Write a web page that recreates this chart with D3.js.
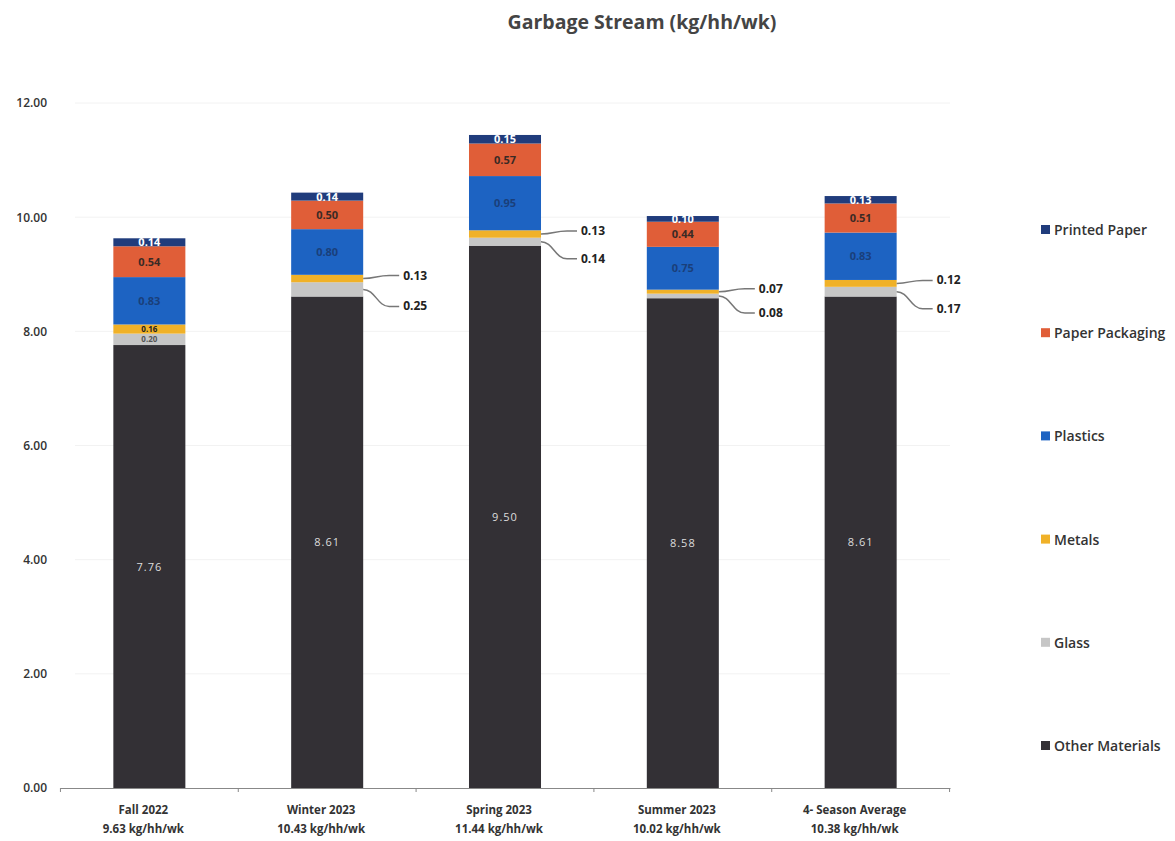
<!DOCTYPE html>
<html><head><meta charset="utf-8">
<script src="https://cdn.jsdelivr.net/npm/d3@7"></script>
<style>body{margin:0;background:#fff;font-family:"Open Sans",Lato,sans-serif;}</style>
</head><body><svg id="c" width="1175" height="841"></svg>
<script>
const categories = ["Fall 2022","Winter 2023","Spring 2023","Summer 2023","4- Season Average"];
const totals = ["9.63 kg/hh/wk","10.43 kg/hh/wk","11.44 kg/hh/wk","10.02 kg/hh/wk","10.38 kg/hh/wk"];
const seriesNames = ["Other Materials","Glass","Metals","Plastics","Paper Packaging","Printed Paper"];
const otherMaterials = [7.76, 8.61, 9.50, 8.58, 8.61];
const glass = [0.20, 0.25, 0.14, 0.08, 0.17];
const metals = [0.16, 0.13, 0.13, 0.07, 0.12];
const plastics = [0.83, 0.80, 0.95, 0.75, 0.83];
const paperPackaging = [0.54, 0.50, 0.57, 0.44, 0.51];
const printedPaper = [0.14, 0.14, 0.15, 0.10, 0.13];
const yTicks = [0, 2, 4, 6, 8, 10, 12];
const colors = ["#333035","#c6c6c6","#f0b128","#1d63c2","#e05e38","#203c7c"];

(function(){
const seriesVals = [otherMaterials, glass, metals, plastics, paperPackaging, printedPaper];
const rows = categories.map((c,i)=>{const o={cat:c}; seriesNames.forEach((s,j)=>o[s]=seriesVals[j][i]); return o;});
const stack = d3.stack().keys(seriesNames)(rows);

const svg = d3.select("#c");
const pL = 60, pR = 950, pT = 103, pB = 788;
const x = d3.scaleBand().domain(categories).range([pL, pR]).paddingInner(0.595).paddingOuter(0.3);
const y = d3.scaleLinear().domain([0,12]).range([pB, pT]);

// title
svg.append("text").attr("x",642).attr("y",29).attr("text-anchor","middle")
  .attr("font-size",19.5).attr("font-weight","bold").attr("fill","#444").text("Garbage Stream (kg/hh/wk)");

// gridlines
svg.append("g").selectAll("line").data(yTicks.filter(t=>t>0)).join("line")
  .attr("x1",pL+15).attr("x2",pR).attr("y1",d=>y(d)).attr("y2",d=>y(d))
  .attr("stroke","#f2f2f2").attr("stroke-width",1);

// y axis labels
const yAxis = d3.axisLeft(y).tickValues(yTicks).tickFormat(d3.format(".2f")).tickSize(0).tickPadding(0);
const ga = svg.append("g").attr("transform",`translate(${pL-13},0)`).call(yAxis);
ga.select(".domain").remove();
ga.selectAll("text").attr("font-size",12).attr("fill","#333").attr("font-family","'Open Sans',sans-serif").attr("font-weight","600");

// bars
const layers = svg.append("g").selectAll("g").data(stack).join("g").attr("fill",(d,i)=>colors[i]);
layers.selectAll("rect").data(d=>d).join("rect")
  .attr("x",d=>x(d.data.cat)).attr("width",x.bandwidth())
  .attr("y",d=>y(d[1])).attr("height",d=>y(d[0])-y(d[1]));

// x axis
const xAxis = d3.axisBottom(x).tickSize(0).tickFormat("");
const gx = svg.append("g").attr("transform",`translate(0,${pB})`).call(xAxis);
gx.select(".domain").attr("stroke","#888").attr("stroke-width",1);
const step = x.step();
svg.append("g").selectAll("line").data(d3.range(categories.length+1)).join("line")
  .attr("x1",i=>x(categories[0]) - (step - x.bandwidth())/2 + i*step)
  .attr("x2",i=>x(categories[0]) - (step - x.bandwidth())/2 + i*step)
  .attr("y1",pB).attr("y2",pB+4).attr("stroke","#888");

// x labels
const xl = svg.append("g").selectAll("text").data(categories).join("text")
  .attr("x",d=>x(d)+x.bandwidth()/2).attr("text-anchor","middle")
  .attr("font-size",11.5).attr("font-weight","bold").attr("fill","#333");
xl.append("tspan").attr("x",d=>x(d)+x.bandwidth()/2 - 6).attr("y",814).text(d=>d);
xl.append("tspan").attr("x",d=>x(d)+x.bandwidth()/2 - 6).attr("y",833).text((d,i)=>totals[i]);

// inside labels
const fmt = d3.format(".2f");
const inside = [
  {s:0, color:"#ddd", weight:"normal", size:11},
  {s:3, color:"#1a3f7a", weight:"bold", size:11},
  {s:4, color:"#3a2a25", weight:"bold", size:11},
  {s:5, color:"#fff", weight:"bold", size:11}
];
inside.forEach(o=>{
  svg.append("g").selectAll("text").data(stack[o.s]).join("text")
    .attr("x",d=>x(d.data.cat)+x.bandwidth()/2)
    .attr("y",d=>(y(d[0])+y(d[1]))/2 + 4)
    .attr("text-anchor","middle").attr("font-size",o.size).attr("font-weight",o.weight)
    .attr("fill",o.color).attr("letter-spacing", o.s===0?1:0)
    .text(d=>fmt(d[1]-d[0]));
});
// Fall small labels inside (glass + metals)
[1,2].forEach(s=>{
  const d = stack[s][0];
  svg.append("text").attr("x",x(d.data.cat)+x.bandwidth()/2).attr("y",(y(d[0])+y(d[1]))/2+3)
    .attr("text-anchor","middle").attr("font-size",8).attr("font-weight","bold")
    .attr("fill", s===2 ? "#222" : "#555").text(fmt(d[1]-d[0]));
});

// callout labels for glass / metals
const callG = svg.append("g");
for (let i=1;i<categories.length;i++){
  const xr = x(categories[i]) + x.bandwidth();
  const m = stack[2][i], g = stack[1][i];
  const ym = (y(m[0])+y(m[1]))/2, yg = (y(g[0])+y(g[1]))/2;
  const lx = xr + 40;
  const tyM = ym - 3, tyG = yg + 17;
  callG.append("path").attr("d",`M${xr},${ym} C${xr+12},${ym} ${xr+14},${tyM} ${xr+26},${tyM} L${lx-4},${tyM}`)
    .attr("fill","none").attr("stroke","#777").attr("stroke-width",1.5);
  callG.append("path").attr("d",`M${xr},${yg} C${xr+12},${yg} ${xr+14},${tyG} ${xr+26},${tyG} L${lx-4},${tyG}`)
    .attr("fill","none").attr("stroke","#777").attr("stroke-width",1.5);
  callG.append("text").attr("x",lx).attr("y",tyM+4).attr("font-size",12).attr("font-weight","bold").attr("fill","#222").text(fmt(m[1]-m[0]));
  callG.append("text").attr("x",lx).attr("y",tyG+4).attr("font-size",12).attr("font-weight","bold").attr("fill","#222").text(fmt(g[1]-g[0]));
}

// legend
const legendOrder = seriesNames.map((s,i)=>({s,i})).reverse();
const lg = svg.append("g").selectAll("g").data(legendOrder).join("g")
  .attr("transform",(d,k)=>`translate(1041,${230 + k*103.2})`);
lg.append("rect").attr("x",0).attr("y",-5).attr("width",9).attr("height",9).attr("fill",d=>colors[d.i]);
lg.append("text").attr("x",13).attr("y",5).attr("font-size",14).attr("font-weight","600").attr("fill","#333").text(d=>d.s);
})();
</script></body></html>
